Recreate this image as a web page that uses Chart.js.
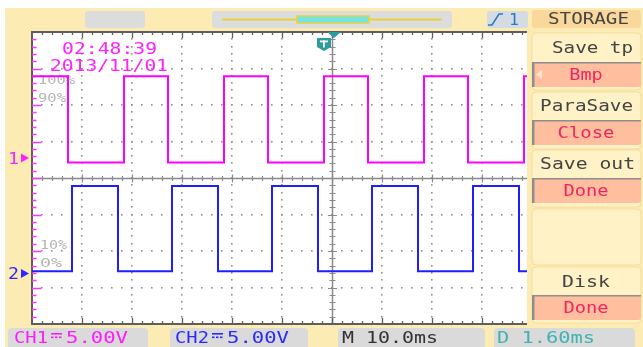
<!DOCTYPE html>
<html>
<head>
<meta charset="utf-8">
<style>
  html, body { margin: 0; padding: 0; background: #ffffff; }
  canvas { display: block; }
</style>
<script src="https://cdn.jsdelivr.net/npm/chart.js@4.4.1/dist/chart.umd.min.js"></script>
</head>
<body>
<canvas id="scope" width="643" height="347"></canvas>
<script>
// Timebase: 10 ms/div, trigger at 0 ms. Vertical: 5 V/div, 8 divisions.
const timeTicks = [-60, -50, -40, -30, -20, -10, 0, 10, 20, 30];
const voltTicks = [-20, -15, -10, -5, 0, 5, 10, 15, 20];

// CH1: edge times (ms) and the level (V, from CH1 ground) reached at each edge
const ch1Times  = [-60, -52.8, -41.6, -32.8, -21.6, -12.8, -1.6, 7.2, 18.4, 27.2, 38.4, 39];
const ch1Levels = [11.2, -0.6, 11.2, -0.6, 11.2, -0.6, 11.2, -0.6, 11.2, -0.6, 11.2, 11.2];

// CH2: edge times (ms) and levels (V, from CH2 ground)
const ch2Times  = [-60, -52, -42.8, -32, -22.8, -12, -2.8, 8, 17.2, 28.2, 37.4, 39];
const ch2Levels = [0.3, 12.0, 0.3, 12.0, 0.3, 12.0, 0.3, 12.0, 0.3, 12.0, 0.3, 0.3];

// Ground reference of each channel on screen (V on the 5 V/div grid)
const ch1Ground = 2.74;
const ch2Ground = -13.08;

const MONO = '"DejaVu Sans Mono"';

// Monospace text squeezed/stretched to a given ink width
function fitText(ctx, str, x, base, cap, inkWidth, color, align) {
  const size = cap / 0.73;
  ctx.save();
  ctx.font = size + 'px ' + MONO;
  const w = ctx.measureText(str).width;
  const sx = inkWidth / w;
  let left = x;
  if (align === 'center') left = x - inkWidth / 2;
  ctx.translate(left, base);
  ctx.scale(sx, 1);
  ctx.fillStyle = color;
  ctx.textBaseline = 'alphabetic';
  ctx.textAlign = 'left';
  ctx.fillText(str, 0, 0);
  ctx.restore();
}

function rrect(ctx, x, y, w, h, r, fill, stroke) {
  ctx.beginPath();
  ctx.roundRect(x, y, w, h, r);
  if (fill) { ctx.fillStyle = fill; ctx.fill(); }
  if (stroke) { ctx.strokeStyle = stroke; ctx.lineWidth = 1; ctx.stroke(); }
}

function button(ctx, y, h, label, base, withArrow) {
  rrect(ctx, 532, y, 109, h, 3, '#ffbf9f');
  ctx.fillStyle = '#8e8e8e';
  ctx.fillRect(532, y, 2.5, h);
  ctx.fillRect(532, y, 109, 1.5);
  if (withArrow) {
    ctx.fillStyle = '#ffe6cc';
    ctx.beginPath();
    ctx.moveTo(536, y + h / 2);
    ctx.lineTo(542, y + h / 2 - 4.5);
    ctx.lineTo(542, y + h / 2 + 4.5);
    ctx.closePath();
    ctx.fill();
  }
  fitText(ctx, label, 586, base, 11, label.length * 11.8 - 2, '#f2245e', 'center');
}

const screenPlugin = {
  id: 'scopeScreen',
  beforeDraw(chart) {
    const ctx = chart.ctx;
    const a = chart.chartArea;
    ctx.save();
    ctx.fillStyle = '#ffffff';
    ctx.fillRect(0, 0, 643, 347);
    ctx.fillStyle = '#fcecb3';
    ctx.fillRect(5, 8, 638, 339);

    // top status bar
    rrect(ctx, 85, 11, 60, 17, 3, '#dcdcdc');
    rrect(ctx, 212, 11, 240, 17, 3, '#dcdcdc');
    ctx.strokeStyle = '#e8d23e';
    ctx.lineWidth = 2;
    ctx.beginPath(); ctx.moveTo(222, 19.5); ctx.lineTo(442, 19.5); ctx.stroke();
    ctx.fillStyle = '#72e4e4';
    ctx.fillRect(297, 16, 72, 7);
    ctx.lineWidth = 1.5;
    ctx.strokeRect(297, 16, 72, 7);
    rrect(ctx, 487, 11, 41, 17, 3, '#d4dbe2');
    ctx.strokeStyle = '#2f78c8';
    ctx.lineWidth = 1.6;
    ctx.beginPath();
    ctx.moveTo(488, 25); ctx.lineTo(492, 25); ctx.lineTo(499, 14); ctx.lineTo(503, 14);
    ctx.stroke();
    fitText(ctx, '1', 509, 25, 11, 10, '#2f78c8');

    // right-hand menu
    rrect(ctx, 532, 10, 109, 18, 3, '#fad89c');
    fitText(ctx, 'STORAGE', 548, 24, 11, 81, '#444444');
    const sections = [[33, 57], [92, 57], [150, 57], [209, 56], [267, 56]];
    sections.forEach(s => rrect(ctx, 532, s[0], 109, s[1], 4, '#fef2c6', '#f6dc9c'));
    fitText(ctx, 'Save tp', 552, 53, 11, 81, '#444444');
    button(ctx, 62, 25, 'Bmp', 80, true);
    fitText(ctx, 'ParaSave', 540, 111, 11, 93, '#444444');
    button(ctx, 120, 25, 'Close', 138);
    fitText(ctx, 'Save out', 540, 169, 11, 95, '#444444');
    button(ctx, 178, 25, 'Done', 196);
    fitText(ctx, 'Disk', 562, 287, 11, 48, '#444444');
    button(ctx, 295, 25, 'Done', 313);

    // bottom status bar
    rrect(ctx, 8, 328, 140, 22, 4, '#dadada');
    rrect(ctx, 170, 328, 138, 22, 4, '#dadada');
    rrect(ctx, 338, 328, 147, 22, 4, '#dadada');
    rrect(ctx, 494, 328, 141, 22, 4, '#dadada');
    const chanLabel = (x, name, color) => {
      fitText(ctx, name, x, 343, 11.5, 34, color);
      ctx.fillStyle = color;
      ctx.fillRect(x + 37, 333, 11, 1.6);
      for (let i = 0; i < 3; i++) ctx.fillRect(x + 37 + i * 4, 336.5, 2.5, 1.6);
      fitText(ctx, '5.00V', x + 52, 343, 11.5, 62, color);
    };
    chanLabel(14, 'CH1', '#ff1aff');
    chanLabel(175, 'CH2', '#2a2aff');
    fitText(ctx, 'M 10.0ms', 342, 343, 11.5, 96, '#333333');
    fitText(ctx, 'D 1.60ms', 497, 343, 11.5, 98, '#3fb2b2');

    // plot face
    ctx.fillStyle = '#ffffff';
    ctx.fillRect(a.left, a.top, a.right - a.left, a.bottom - a.top);
    ctx.restore();
  },
  beforeDatasetsDraw(chart) {
    const ctx = chart.ctx;
    const a = chart.chartArea;
    const xs = chart.scales.x, ys = chart.scales.y;
    ctx.save();

    // dotted graticule along the major divisions
    ctx.fillStyle = '#8f8f8f';
    const tMin = timeTicks[0];
    voltTicks.forEach(v => {
      if (v === 0 || v === voltTicks[0] || v === voltTicks[voltTicks.length - 1]) return;
      const py = Math.round(ys.getPixelForValue(v));
      for (let t = tMin + 2; t < xs.max; t += 2) {
        ctx.fillRect(Math.round(xs.getPixelForValue(t)) - 1, py - 1, 1.6, 1.6);
      }
    });
    timeTicks.forEach(t => {
      if (t === 0 || t === tMin) return;
      const px = Math.round(xs.getPixelForValue(t));
      for (let v = -19; v < 20; v += 1) {
        ctx.fillRect(px - 1, Math.round(ys.getPixelForValue(v)) - 1, 1.6, 1.6);
      }
    });

    // centre cross with minor ticks
    const cx = Math.round(xs.getPixelForValue(0)) + 0.5;
    const cy = Math.round(ys.getPixelForValue(0)) + 0.5;
    ctx.strokeStyle = '#8a8a8a';
    ctx.lineWidth = 1.5;
    ctx.beginPath();
    ctx.moveTo(a.left, cy); ctx.lineTo(a.right, cy);
    ctx.moveTo(cx, a.top); ctx.lineTo(cx, a.bottom);
    ctx.stroke();
    ctx.lineWidth = 1.2;
    ctx.beginPath();
    for (let t = tMin + 2; t < xs.max; t += 2) {
      const px = Math.round(xs.getPixelForValue(t)) + 0.5;
      const len = (t % 10 === 0) ? 4 : 2.5;
      ctx.moveTo(px, cy - len); ctx.lineTo(px, cy + len);
    }
    for (let v = -19; v < 20; v += 1) {
      const py = Math.round(ys.getPixelForValue(v)) + 0.5;
      const len = (v % 5 === 0) ? 4.5 : 3;
      ctx.moveTo(cx - len, py); ctx.lineTo(cx + len, py);
    }
    ctx.stroke();

    // frame: top/bottom ticks in grey, left ticks in CH1 colour
    ctx.strokeStyle = '#5e5e5e';
    ctx.lineWidth = 2;
    ctx.beginPath();
    ctx.moveTo(a.left - 1, a.top); ctx.lineTo(a.right, a.top);
    ctx.moveTo(a.left, a.top); ctx.lineTo(a.left, a.bottom);
    ctx.moveTo(a.left - 1, a.bottom); ctx.lineTo(a.right, a.bottom);
    ctx.stroke();
    ctx.lineWidth = 1.3;
    ctx.beginPath();
    for (let t = tMin + 2; t < xs.max; t += 2) {
      const px = Math.round(xs.getPixelForValue(t)) + 0.5;
      const len = (t % 10 === 0) ? 6 : 3;
      ctx.moveTo(px, a.top); ctx.lineTo(px, a.top + len);
      ctx.moveTo(px, a.bottom); ctx.lineTo(px, a.bottom - len);
    }
    ctx.stroke();
    ctx.strokeStyle = '#ff33ff';
    ctx.lineWidth = 1.6;
    ctx.beginPath();
    for (let v = -19; v < 20; v += 1) {
      const py = Math.round(ys.getPixelForValue(v)) + 0.5;
      const len = (v % 5 === 0) ? 9 : 4.5;
      ctx.moveTo(a.left, py); ctx.lineTo(a.left + len, py);
    }
    ctx.stroke();

    // level reference labels
    ctx.fillStyle = '#b4b4b4';
    fitText(ctx, '100%', 38, 84, 8.5, 37, '#b4b4b4');
    fitText(ctx, '90%', 38, 102, 8.5, 28, '#b4b4b4');
    fitText(ctx, '10%', 40, 249, 8.5, 27, '#b4b4b4');
    fitText(ctx, '0%', 40, 267, 8.5, 22, '#b4b4b4');

    // timestamp
    fitText(ctx, '02:48:39', 62, 54, 12, 95, '#ff22ff');
    fitText(ctx, '2013/11/01', 50, 71, 12, 118, '#ff22ff');
    ctx.restore();
  },
  afterDraw(chart) {
    const ctx = chart.ctx;
    const a = chart.chartArea;
    const xs = chart.scales.x, ys = chart.scales.y;
    ctx.save();
    // channel ground markers
    const marker = (label, v, color) => {
      const py = ys.getPixelForValue(v);
      fitText(ctx, label, 8, py + 6, 11, 11, color);
      ctx.fillStyle = color;
      ctx.beginPath();
      ctx.moveTo(21, py - 4.5); ctx.lineTo(29, py); ctx.lineTo(21, py + 4.5);
      ctx.closePath(); ctx.fill();
    };
    marker('1', ch1Ground, '#ff22ff');
    marker('2', ch2Ground, '#2a2aff');

    // trigger position arrow and badge
    const tx = xs.getPixelForValue(0) + 2;
    ctx.fillStyle = '#2d9c9c';
    ctx.beginPath();
    ctx.moveTo(tx - 7, a.top); ctx.lineTo(tx + 7, a.top); ctx.lineTo(tx, a.top + 6);
    ctx.closePath(); ctx.fill();
    ctx.beginPath();
    ctx.moveTo(317, 38); ctx.lineTo(331, 38); ctx.lineTo(331, 47); ctx.lineTo(324, 51);
    ctx.lineTo(317, 47); ctx.closePath(); ctx.fill();
    ctx.fillStyle = '#ffffff';
    ctx.fillRect(320, 40.5, 8, 1.8);
    ctx.fillRect(323, 40.5, 1.8, 7);
    ctx.restore();
  }
};

const toPoints = (times, levels, ground) => times.map((t, i) => ({ x: t, y: levels[i] + ground }));

new Chart(document.getElementById('scope'), {
  type: 'line',
  data: {
    datasets: [
      {
        label: 'CH1',
        data: toPoints(ch1Times, ch1Levels, ch1Ground),
        borderColor: '#ff00ff',
        borderWidth: 2,
        stepped: true,
        pointRadius: 0,
        fill: false
      },
      {
        label: 'CH2',
        data: toPoints(ch2Times, ch2Levels, ch2Ground),
        borderColor: '#1e1eff',
        borderWidth: 2,
        stepped: true,
        pointRadius: 0,
        fill: false
      }
    ]
  },
  options: {
    responsive: false,
    animation: false,
    devicePixelRatio: 1,
    layout: { padding: { left: 32, top: 32, right: 116, bottom: 23 } },
    plugins: { legend: { display: false }, tooltip: { enabled: false } },
    scales: {
      x: {
        type: 'linear',
        min: -60,
        max: 39,
        afterBuildTicks: s => { s.ticks = timeTicks.map(v => ({ value: v })); },
        afterFit: s => { s.height = 0; },
        ticks: { display: false },
        grid: { display: false, drawTicks: false },
        border: { display: false }
      },
      y: {
        type: 'linear',
        min: -20,
        max: 20,
        afterBuildTicks: s => { s.ticks = voltTicks.map(v => ({ value: v })); },
        afterFit: s => { s.width = 0; },
        ticks: { display: false },
        grid: { display: false, drawTicks: false },
        border: { display: false }
      }
    }
  },
  plugins: [screenPlugin]
});
</script>
</body>
</html>
